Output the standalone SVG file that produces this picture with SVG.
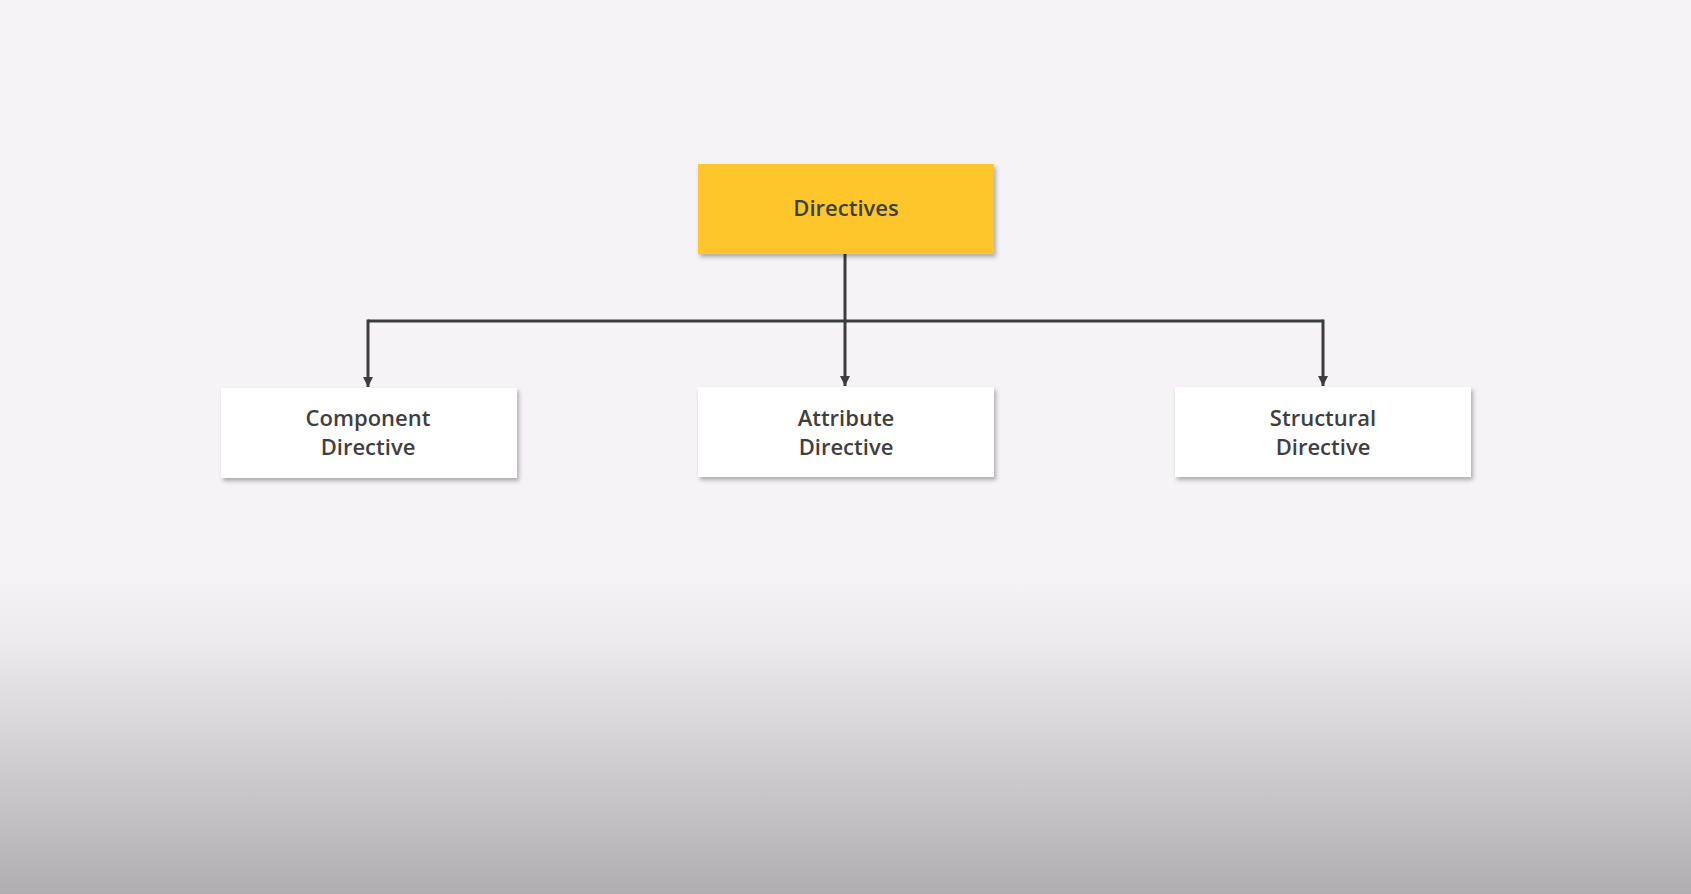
<svg xmlns="http://www.w3.org/2000/svg" width="1691" height="894" viewBox="0 0 1691 894">
<defs>
<linearGradient id="bg" x1="0" y1="0" x2="0" y2="1">
<stop offset="0" stop-color="#f5f3f6"/>
<stop offset="0.645" stop-color="#f5f3f6"/>
<stop offset="0.72" stop-color="#eceaed"/>
<stop offset="1" stop-color="#b0aeb1"/>
</linearGradient>
<filter id="sh" x="-10%" y="-20%" width="120%" height="150%">
<feDropShadow dx="2" dy="3" stdDeviation="2" flood-color="#000" flood-opacity="0.3"/>
</filter>
<marker id="arr" viewBox="0 0 10 10" refX="10" refY="5" markerWidth="10" markerHeight="10" markerUnits="userSpaceOnUse" orient="auto">
<path d="M0,0 L10,5 L0,10 z" fill="#3c3c3f"/>
</marker>
<style>
.box{fill:#ffffff;filter:url(#sh);}
.top{fill:#fdc62c;filter:url(#sh);}
.t{font-family:"Open Sans","Liberation Sans",sans-serif;font-weight:600;font-size:22px;fill:#3f3f42;text-anchor:middle;}
.c{stroke:#3c3c3f;stroke-width:3;fill:none;}
</style>
</defs>
<rect width="1691" height="894" fill="url(#bg)"/>
<g id="connectors">
<line class="c" x1="845" y1="254" x2="845" y2="386" marker-end="url(#arr)"/>
<line class="c" x1="368" y1="321" x2="1323" y2="321"/>
<line class="c" x1="368" y1="319.5" x2="368" y2="387" marker-end="url(#arr)"/>
<line class="c" x1="1323" y1="319.5" x2="1323" y2="386" marker-end="url(#arr)"/>
</g>
<g id="directives">
<rect class="top" x="698" y="164" width="296" height="90"/>
<text class="t" x="846" y="216">Directives</text>
</g>
<g id="component">
<rect class="box" x="221" y="388" width="296" height="90"/>
<text class="t" x="368" y="426">Component</text>
<text class="t" x="368" y="455">Directive</text>
</g>
<g id="attribute">
<rect class="box" x="698" y="387" width="296" height="90"/>
<text class="t" x="846" y="426">Attribute</text>
<text class="t" x="846" y="455">Directive</text>
</g>
<g id="structural">
<rect class="box" x="1175" y="387" width="296" height="90"/>
<text class="t" x="1323" y="426">Structural</text>
<text class="t" x="1323" y="455">Directive</text>
</g>
</svg>
